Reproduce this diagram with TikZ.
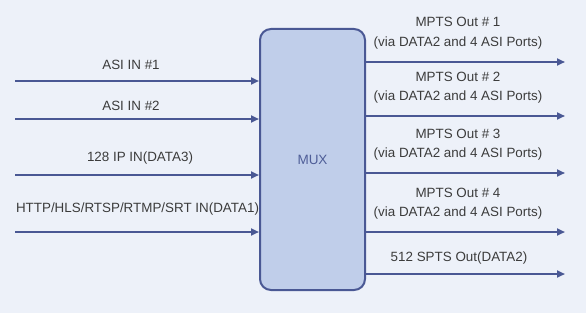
\documentclass[tikz,border=0pt]{standalone}
\usepackage{fontspec}
\setmainfont{Liberation Sans}
\usetikzlibrary{arrows.meta}
\definecolor{bg}{HTML}{EDF1F9}
\definecolor{boxfill}{HTML}{C0CEEA}
\definecolor{edge}{HTML}{4A5894}
\definecolor{txt}{HTML}{3C3C3C}
\definecolor{muxtxt}{HTML}{4F5E98}
\tikzset{
  conn/.style={draw=edge, line width=2pt, -{Triangle[length=8pt,width=7pt]}},
  lbl/.style={text=txt, font=\fontsize{13.4}{19.5}\selectfont, inner sep=0pt, align=center},
  muxbox/.style={draw=edge, fill=boxfill, line width=2pt, rounded corners=11pt, minimum width=105pt, minimum height=261pt, inner sep=0pt, text=muxtxt, font=\fontsize{13.5}{15}\selectfont}
}
\begin{document}
\begin{tikzpicture}[x=1pt,y=-1pt]
\fill[bg] (0,0) rectangle (586,313);
\useasboundingbox (0,0) rectangle (586,313);
\node[muxbox] (mux) at (312.5,159.5) {MUX};
% inputs
\coordinate (i1) at (15,81);
\coordinate (i2) at (15,119);
\coordinate (i3) at (15,175);
\coordinate (i4) at (15,232);
\draw[conn] (i1) -- (i1 -| mux.west);
\draw[conn] (i2) -- (i2 -| mux.west);
\draw[conn] (i3) -- (i3 -| mux.west);
\draw[conn] (i4) -- (i4 -| mux.west);
\node[lbl] (l1) at (131,65) {ASI IN \#1};
\node[lbl] (l2) at (131,106) {ASI IN \#2};
\node[lbl] (l3) at (140,158) {128 IP IN(DATA3)};
\node[lbl] (l4) at (137.5,209) {HTTP/HLS/RTSP/RTMP/SRT IN(DATA1)};
% outputs
\coordinate (o1) at (565,62);
\coordinate (o2) at (565,116);
\coordinate (o3) at (565,173);
\coordinate (o4) at (565,232);
\coordinate (o5) at (565,274);
\draw[conn] (o1 -| mux.east) -- (o1);
\draw[conn] (o2 -| mux.east) -- (o2);
\draw[conn] (o3 -| mux.east) -- (o3);
\draw[conn] (o4 -| mux.east) -- (o4);
\draw[conn] (o5 -| mux.east) -- (o5);
\node[lbl] (m1) at (458,33) {MPTS Out \# 1\\(via DATA2 and 4 ASI Ports)};
\node[lbl] (m2) at (458,87.5) {MPTS Out \# 2\\(via DATA2 and 4 ASI Ports)};
\node[lbl] (m3) at (458,144.5) {MPTS Out \# 3\\(via DATA2 and 4 ASI Ports)};
\node[lbl] (m4) at (458,203.5) {MPTS Out \# 4\\(via DATA2 and 4 ASI Ports)};
\node[lbl] (m5) at (459,258) {512 SPTS Out(DATA2)};
\end{tikzpicture}
\end{document}
